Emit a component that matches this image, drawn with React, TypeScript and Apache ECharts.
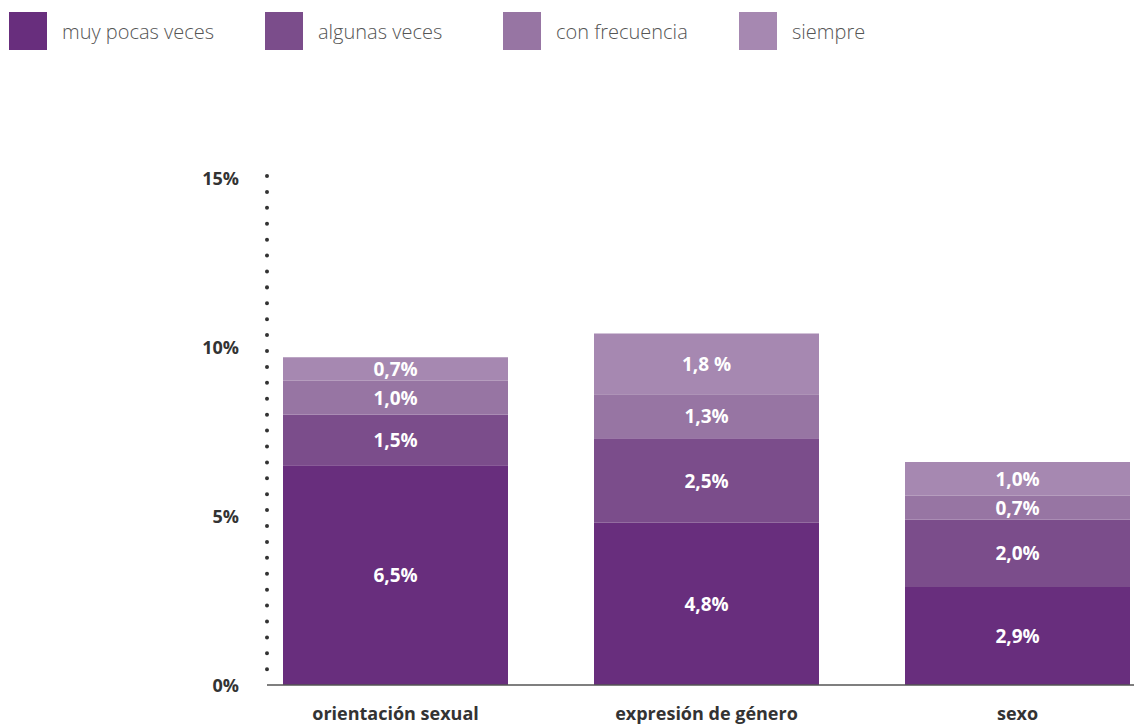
import React, { useEffect, useRef } from "react";
import * as echarts from "echarts";

const categories = ["orientación sexual", "expresión de género", "sexo"];
const seriesNames = ["muy pocas veces", "algunas veces", "con frecuencia", "siempre"];
const muyPocas = [6.5, 4.8, 2.9];
const algunas = [1.5, 2.5, 2.0];
const conFrecuencia = [1.0, 1.3, 0.7];
const siempre = [0.7, 1.8, 1.0];
const siempreLabels = ["0,7%", "1,8 %", "1,0%"];
const yTicks = [0, 5, 10, 15];
const colors = ["#682E7D", "#7B4D8B", "#9775A3", "#A688B1"];
const legendLeft = [9, 265, 503, 739];

const FONT = "Open Sans";

export default function App() {
  const ref = useRef<HTMLDivElement>(null);
  useEffect(() => {
    document.body.style.margin = "0";
    const chart = echarts.init(ref.current!, null, { renderer: "svg" });
    const seriesData = [muyPocas, algunas, conFrecuencia, siempre];
    const fmt = (v: number) => v.toFixed(1).replace(".", ",") + "%";
    const option: any = {
      animation: false,
      textStyle: { fontFamily: FONT },
      legend: seriesNames.map((n, i) => ({
        data: [n],
        left: legendLeft[i],
        top: 12,
        padding: 0,
        itemWidth: 38,
        itemHeight: 38,
        itemGap: 0,
        icon: "rect",
        textStyle: { fontFamily: FONT, fontSize: 20, fontWeight: 300, color: "#555", padding: [0, 0, 0, 10] },
        selectedMode: false,
      })),
      grid: { left: 240, width: 933, top: 178, bottom: 41, outerBoundsMode: "none", containLabel: false },
      xAxis: {
        type: "category",
        data: categories,
        axisLine: { show: false },
        axisTick: { show: false },
        axisLabel: { fontFamily: FONT, fontSize: 18, fontWeight: 700, color: "#333", margin: 19 },
      },
      yAxis: {
        type: "value",
        min: 0,
        max: 15,
        interval: 5,
        axisLine: { show: false },
        axisTick: { show: false },
        splitLine: { show: false },
        axisLabel: {
          fontFamily: FONT,
          fontSize: 18,
          fontWeight: 700,
          color: "#333",
          margin: 1,
          formatter: (v: number) => (yTicks.includes(v) ? v + "%" : ""),
        },
      },
      graphic: [
        {
          type: "line",
          shape: { x1: 267, y1: 176, x2: 267, y2: 682 },
          style: { stroke: "#333", lineWidth: 4, lineDash: [0.01, 15.9], lineCap: "round" },
          z: 10,
        },
        { type: "line", shape: { x1: 267, y1: 685, x2: 1134, y2: 685 }, style: { stroke: "#555", lineWidth: 1.5 }, z: 10 },
      ],
      series: seriesNames.map((n, i) => ({
        name: n,
        type: "bar",
        stack: "total",
        barWidth: 225,
        itemStyle: { color: colors[i] },
        label: {
          show: true,
          position: "inside",
          color: "#fff",
          fontFamily: FONT,
          fontSize: 19,
          fontWeight: 700,
          formatter: (p: any) => (i === 3 ? siempreLabels[p.dataIndex] : fmt(p.value)),
        },
        data: seriesData[i],
      })),
    };
    chart.setOption(option);
    return () => chart.dispose();
  }, []);
  return <div ref={ref} style={{ width: 1142, height: 726 }} />;
}
